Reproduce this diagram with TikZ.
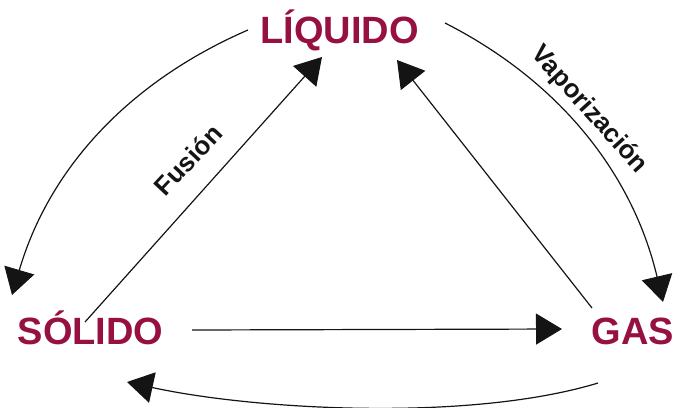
\documentclass[tikz,border=0pt]{standalone}
\usepackage{fontspec}
\setmainfont{Liberation Sans}
\usetikzlibrary{arrows.meta}
\definecolor{stateRed}{RGB}{150,16,66}
\definecolor{lineGray}{RGB}{20,20,20}
\begin{document}
\begin{tikzpicture}[x=1pt,y=-1pt,
  statebox/.style={font=\fontsize{38}{38}\selectfont\bfseries, text=stateRed, inner sep=0pt, anchor=base},
  lbl/.style={font=\fontsize{26}{26}\selectfont\bfseries, text=lineGray, inner sep=0pt},
  arr/.style={line width=1.2pt, draw=lineGray, -{Triangle[length=26pt,width=31pt]}}]
\useasboundingbox (0,0) rectangle (674,407);
\clip (0,0) rectangle (674,407);
% end points of the connectors
\coordinate (liqLeft) at (248,30);
\coordinate (solTip) at (12,295);
\coordinate (solTop) at (85,322);
\coordinate (liqTipA) at (322,57);
\coordinate (gasTop) at (592,308);
\coordinate (liqTipB) at (397,60);
\coordinate (liqRight) at (445,23);
\coordinate (gasTip) at (663,302);
\coordinate (solRight) at (192,330);
\coordinate (gasLeft) at (562,329);
\coordinate (gasBottom) at (598,383);
\coordinate (solBottom) at (127,382);
% connectors
\draw[arr] (liqLeft) .. controls (128,82) and (49,169) .. (solTip);
\draw[arr] (solTop) -- (liqTipA);
\draw[arr] (gasTop) -- (liqTipB);
\draw[arr] (liqRight) .. controls (561,82) and (633,175) .. (gasTip);
\draw[arr] (solRight) -- (gasLeft);
\draw[arr] (gasBottom) .. controls (470,422) and (255,410) .. (solBottom);
% states
\node[statebox] (liq) at (339.5,43) {LÍQUIDO};
\node[statebox] (sol) at (90.5,344) {SÓLIDO};
\node[statebox] (gas) at (633,344) {GAS};
% labels
\node[lbl, rotate=47] (fus) at (188,160) {Fusión};
\node[lbl, rotate=-48] (vap) at (589,110) {Vaporización};
\end{tikzpicture}
\end{document}
